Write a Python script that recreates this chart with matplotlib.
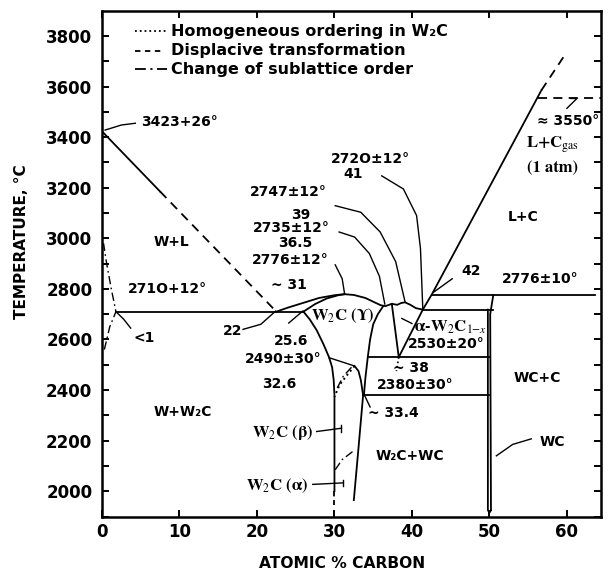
import numpy as np
import matplotlib.pyplot as plt

plt.rcParams['mathtext.fontset'] = 'stix'
plt.rcParams['font.family'] = ['DejaVu Sans']

# --- phase boundaries, (at.% C, deg C) ---
liq_w_x = [0.0, 7.5]
liq_w_t = [3423, 3185]
liq_w_dash_x = [7.5, 22.5]
liq_w_dash_t = [3185, 2710]

w_solvus_x = [0.3, 1.0, 1.8, 1.2, 0.6, 0.2]
w_solvus_t = [2560, 2650, 2710, 2800, 2900, 2980]

eut_x = [1.8, 26.0]
eut_t = [2710, 2710]

liq_mid_x = [22.5, 24, 26, 28, 30, 31.3, 32.5, 34, 35.3, 36.0, 36.6, 37.4, 38.1, 38.6, 39.1, 39.8, 40.5, 41.4]
liq_mid_t = [2710, 2726, 2745, 2764, 2775, 2779, 2776, 2764, 2745, 2735, 2732, 2741, 2737, 2744, 2747, 2737, 2724, 2718]

w2c_sol_x = [26.0, 27.5, 29.0, 30.5, 31.3]
w2c_sol_t = [2710, 2740, 2762, 2775, 2779]

w2c_left_x = [26.0, 26.8, 27.7, 28.6, 29.3, 29.7, 29.9, 30.0, 30.0]
w2c_left_t = [2710, 2680, 2637, 2580, 2530, 2490, 2440, 2380, 2000]
w2c_left_dash_x = [30.0, 30.0]
w2c_left_dash_t = [2000, 1945]

w2c_right_x = [36.3, 35.6, 35.0, 34.6, 34.3, 34.0, 33.8]
w2c_right_t = [2732, 2700, 2660, 2600, 2530, 2450, 2380]

peak_x = [32.6, 33.1, 33.4, 33.7]
peak_t = [2495, 2475, 2440, 2380]
low_right_x = [33.7, 33.1, 32.5]
low_right_t = [2380, 2170, 1965]

hom_x = [32.6, 31.65, 30.65, 30.0]
hom_t = [2495, 2460, 2420, 2373]
subl_x = [32.2, 31.15, 30.3]
subl_t = [2490, 2455, 2405]
beta_alpha_x = [30.1, 31.0, 32.4]
beta_alpha_t = [2085, 2125, 2158]

v_left_x = [37.4, 38.3]
v_left_t = [2741, 2530]
v_right_x = [41.4, 38.3]
v_right_t = [2718, 2530]
v_dot_x = [38.3, 38.0]
v_dot_t = [2530, 2475]

h2530_x = [34.3, 50.0]
h2380_x = [33.7, 50.0]
h2720_x = [41.4, 50.4]
h2776_x = [42.6, 63.6]

wc_left_x = [49.8, 49.8, 50.0, 50.2]
wc_left_t = [2718, 1925, 1915, 1925]
wc_right_x = [50.5, 50.1, 50.2]
wc_right_t = [2776, 2700, 1925]

lc_x = [41.4, 42.6, 56.7]
lc_t = [2718, 2780, 3585]
lc_dash_x = [56.7, 59.8]
lc_dash_t = [3585, 3728]
gas_x = [56.3, 64.4]
gas_t = [3555, 3555]

# leader lines from labels
leaders = [
    ([4.3, 2.5, 0.4], [3455, 3448, 3428]),
    ([3.7, 2.8, 1.9], [2645, 2680, 2707]),
    ([18.2, 20.5, 22.4], [2640, 2660, 2712]),
    ([24.1, 25.9], [2665, 2712]),
    ([30.1, 31.0, 31.3], [2895, 2840, 2782]),
    ([30.6, 32.6, 34.5, 35.8, 36.5], [3025, 3005, 2940, 2850, 2740]),
    ([30.1, 33.4, 35.9, 37.9, 39.1], [3129, 3103, 3025, 2908, 2750]),
    ([36.1, 38.9, 40.6, 41.1, 41.4], [3247, 3195, 3090, 2960, 2722]),
    ([29.3, 32.5], [2528, 2496]),
    ([34.6, 33.9], [2333, 2378]),
    ([27.7, 30.9], [2236, 2249]),
    ([30.9, 30.9], [2235, 2262]),
    ([27.2, 31.15], [2027, 2033]),
    ([31.15, 31.15], [2020, 2046]),
    ([38.7, 40.0], [2683, 2663]),
    ([45.2, 42.8], [2840, 2787]),
    ([60.0, 61.3, 60.5], [3514, 3553, 3553]),
    ([55.4, 53.0, 50.9], [2207, 2185, 2140]),
]

# legend rows
legend_labels = ['Homogeneous ordering in W₂C', 'Displacive transformation', 'Change of sublattice order']
legend_t = [3818, 3742, 3668]

fig = plt.figure(figsize=(6.08, 5.73), dpi=100)
ax = fig.add_axes([102 / 608, 1 - 516.5 / 573, (601 - 102) / 608, (516.5 - 10.7) / 573])
ax.set_xlim(0, 64.4)
ax.set_ylim(1900, 3900)

lw = 1.3
k = dict(color='black', lw=lw)
dash = (0, (5, 3.5))
dashdot = (0, (6, 2.5, 1.2, 2.5))

ax.plot(liq_w_x, liq_w_t, **k)
ax.plot(liq_w_dash_x, liq_w_dash_t, ls=dash, **k)
ax.plot(w_solvus_x, w_solvus_t, ls=dashdot, color='black', lw=1.0)
ax.plot(eut_x, eut_t, **k)
ax.plot(liq_mid_x, liq_mid_t, **k)
ax.plot(w2c_sol_x, w2c_sol_t, **k)
ax.plot(w2c_left_x, w2c_left_t, **k)
ax.plot(w2c_left_dash_x, w2c_left_dash_t, ls=(0, (3, 2)), **k)
ax.plot(w2c_right_x, w2c_right_t, **k)
ax.plot(peak_x, peak_t, **k)
ax.plot(low_right_x, low_right_t, **k)
ax.plot(hom_x, hom_t, ls=':', color='black', lw=1.4)
ax.plot(subl_x, subl_t, ls=dashdot, color='black', lw=1.0)
ax.plot(beta_alpha_x, beta_alpha_t, ls=dashdot, color='black', lw=1.0)
ax.plot(v_left_x, v_left_t, **k)
ax.plot(v_right_x, v_right_t, **k)
ax.plot(v_dot_x, v_dot_t, ls=':', color='black', lw=1.2)
ax.plot(h2530_x, [2530, 2530], **k)
ax.plot(h2380_x, [2380, 2380], **k)
ax.plot(h2720_x, [2718, 2718], **k)
ax.plot(h2776_x, [2776, 2776], **k)
ax.plot(wc_left_x, wc_left_t, **k)
ax.plot(wc_right_x, wc_right_t, **k)
ax.plot(lc_x, lc_t, **k)
ax.plot(lc_dash_x, lc_dash_t, ls=dash, **k)
ax.plot(gas_x, gas_t, ls=dash, **k)

for lx, lt in leaders:
    ax.plot(lx, lt, color='black', lw=1.0)

# legend samples
ax.plot([4.3, 8.3], [legend_t[0]] * 2, ls=':', color='black', lw=1.3)
ax.plot([4.3, 7.8], [legend_t[1]] * 2, ls=(0, (3, 2.5)), color='black', lw=1.3)
ax.plot([4.3, 8.4], [legend_t[2]] * 2, ls=dashdot, color='black', lw=1.3)
for lab, t in zip(legend_labels, legend_t):
    ax.text(8.9, t, lab, fontsize=11.5, fontweight='bold', va='center', ha='left')

sans = dict(fontsize=10, fontweight='bold', ha='center', va='center')
serif = dict(fontsize=12, fontweight='bold', ha='center', va='center', family='STIXGeneral')

ax.text(5.1, 3458, '3423+26°', fontsize=10, fontweight='bold', ha='left', va='center')
ax.text(8.9, 2986, 'W+L', **sans)
ax.text(8.4, 2800, '271O+12°', **sans)
ax.text(5.4, 2607, '<1', **sans)
ax.text(16.9, 2633, '22', **sans)
ax.text(24.4, 2593, '25.6', **sans)
ax.text(23.4, 2524, '2490±30°', **sans)
ax.text(22.9, 2423, '32.6', **sans)
ax.text(10.4, 2313, 'W+W₂C', **sans)
ax.text(34.7, 3312, '272O±12°', **sans)
ax.text(32.4, 3253, '41', **sans)
ax.text(24.1, 3184, '2747±12°', **sans)
ax.text(25.6, 3093, '39', **sans)
ax.text(24.4, 3041, '2735±12°', **sans)
ax.text(24.9, 2980, '36.5', **sans)
ax.text(24.3, 2915, '2776±12°', **sans)
ax.text(24.1, 2817, '~ 31', **sans)
ax.text(37.65, 2311, '~ 33.4', **sans)
ax.text(39.8, 2140, 'W₂C+WC', **sans)
ax.text(40.4, 2420, '2380±30°', **sans)
ax.text(39.9, 2489, '~ 38', **sans)
ax.text(44.4, 2583, '2530±20°', **sans)
ax.text(56.15, 2447, 'WC+C', **sans)
ax.text(58.15, 2196, 'WC', **sans)
ax.text(47.7, 2872, '42', **sans)
ax.text(56.5, 2840, '2776±10°', **sans)
ax.text(54.4, 3083, 'L+C', **sans)
ax.text(60.2, 3464, '≈ 3550°', **sans)

ax.text(23.3, 2231, r'W$_2$C (β)', **serif)
ax.text(22.65, 2023, r'W$_2$C (α)', **serif)
ax.text(31.1, 2696, r'W$_2$C (Υ)', **serif)
ax.text(45.0, 2649, r'α-W$_2$C$_{1\mathrm{-}x}$', **serif)
ax.text(58.2, 3372, r'L+C$_{\mathrm{gas}}$', **serif)
ax.text(58.2, 3280, '(1 atm)', **serif)

# axes frame and ticks
for s in ax.spines.values():
    s.set_linewidth(1.8)
ax.set_xticks(np.arange(0, 61, 10))
ax.set_yticks(np.arange(2000, 3801, 200))
ax.set_yticks(np.arange(1900, 3900, 100), minor=True)
ax.tick_params(which='both', direction='in', top=True, right=True, width=1.4, length=5)
ax.tick_params(axis='x', pad=5)
ax.tick_params(axis='y', pad=7)
for lab in ax.get_xticklabels() + ax.get_yticklabels():
    lab.set_fontsize(12)
    lab.set_fontweight('bold')

fig.text(342 / 608, 1 - 563 / 573, 'ATOMIC % CARBON', fontsize=11.2, fontweight='bold', ha='center', va='center')
fig.text(21 / 608, 1 - 242 / 573, 'TEMPERATURE, °C', fontsize=11, fontweight='bold', ha='center', va='center', rotation=90)

fig.savefig('out.png', dpi=100)
